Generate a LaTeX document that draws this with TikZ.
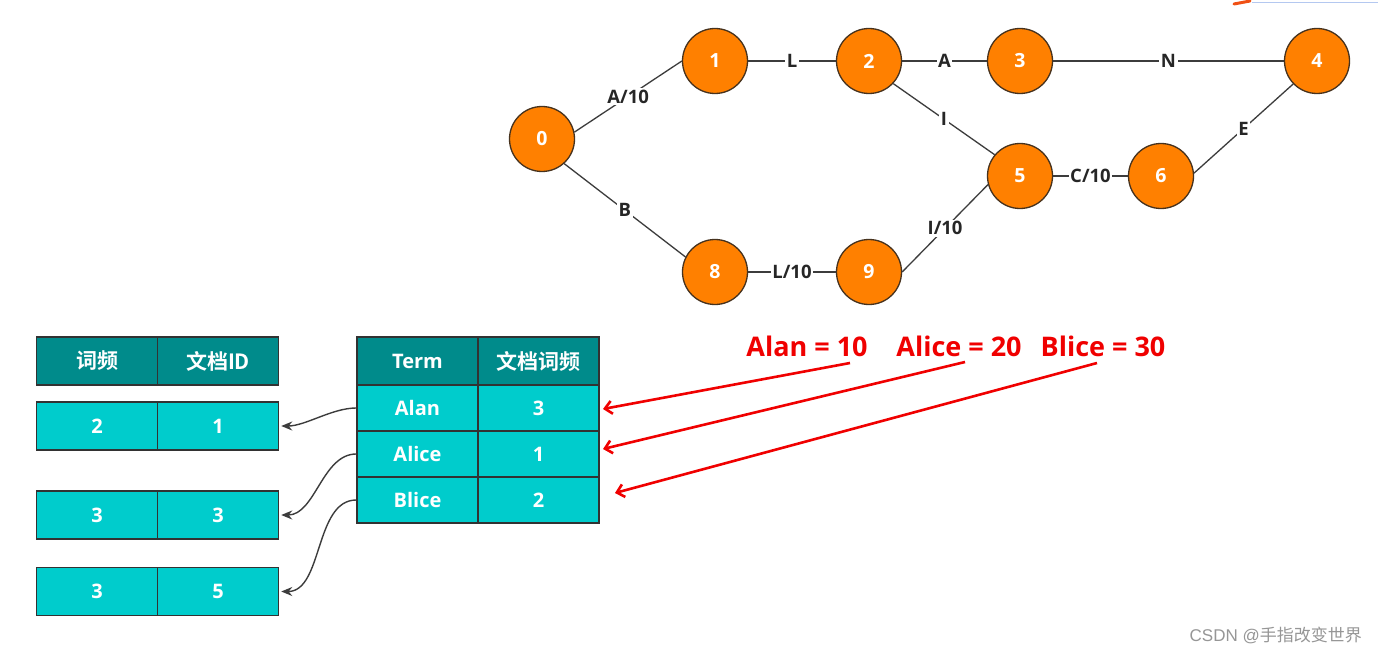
\documentclass[tikz,border=0pt]{standalone}
\usepackage{fontspec}
\setmainfont{Open Sans}
\newfontfamily\cjk{Noto Sans CJK SC}[BoldFont={Noto Sans CJK SC Bold}]
\newfontfamily\wmfont{Liberation Sans}
\usetikzlibrary{arrows.meta}
\definecolor{vtxorange}{RGB}{255,128,0}
\definecolor{vtxborder}{RGB}{70,50,30}
\definecolor{edgegray}{RGB}{60,60,60}
\definecolor{hdrteal}{RGB}{0,139,139}
\definecolor{rowcyan}{RGB}{0,204,204}
\definecolor{cellborder}{RGB}{50,50,50}
\definecolor{redtxt}{RGB}{240,0,0}
\definecolor{wmgray}{RGB}{150,150,150}
\definecolor{artblue}{RGB}{180,200,240}
\definecolor{artorange}{RGB}{240,80,20}
\begin{document}
\begin{tikzpicture}[x=1pt,y=-1pt,
  vtx/.style={circle, fill=vtxorange, draw=vtxborder, line width=1.3pt, minimum size=65pt, inner sep=0pt, text=white, font=\bfseries\fontsize{19.5}{19.5}\selectfont},
  edg/.style={draw=edgegray, line width=1.3pt},
  elbl/.style={fill=white, inner sep=1.5pt, text=black!85, font=\bfseries\fontsize{18.5}{18.5}\selectfont},
  cell/.style={draw=cellborder, line width=1.5pt, text=white, inner sep=0pt, font=\bfseries\fontsize{20}{20}\selectfont},
  hdr/.style={cell, fill=hdrteal, minimum width=121pt, minimum height=48pt},
  lrow/.style={cell, fill=rowcyan, minimum width=121pt, minimum height=48pt},
  rrow/.style={cell, fill=rowcyan, minimum width=121pt, minimum height=46pt},
  zh/.style={font=\cjk\bfseries\fontsize{21}{21}\selectfont},
  link/.style={draw=edgegray, line width=1.4pt, -{Stealth[length=11pt,width=9pt]}},
  redarr/.style={draw=redtxt, line width=2.6pt, -{Straight Barb[length=7pt,width=13pt,line width=2.6pt]}},
  redlbl/.style={text=redtxt, inner sep=0pt, font=\bfseries\fontsize{27}{27}\selectfont},
  wm/.style={text=wmgray, inner sep=0pt, anchor=east, font=\fontsize{17}{17}\selectfont}
]
\useasboundingbox (0,0) rectangle (1378,655);
\fill[white] (0,0) rectangle (1378,655);

% screenshot fragment at the top right
\draw[artblue, line width=1pt] (1252,3) -- (1378,3);
\draw[artorange, line width=3pt, line cap=round] (1234,4) -- (1250,1);

% graph vertices
\node[vtx] (n0) at (542,139) {0};
\node[vtx] (n1) at (715,61) {1};
\node[vtx] (n2) at (869,61) {2};
\node[vtx] (n3) at (1020,61) {3};
\node[vtx] (n4) at (1317,61) {4};
\node[vtx] (n5) at (1020,176) {5};
\node[vtx] (n6) at (1161,176) {6};
\node[vtx] (n8) at (715,272) {8};
\node[vtx] (n9) at (869,272) {9};

% graph edges
\path[edg] (n0.12) -- node[elbl] {A/10} (n1.west);
\path[edg] (n1.east) -- node[elbl] {L} (n2.west);
\path[edg] (n2.east) -- node[elbl] {A} (n3.west);
\path[edg] (n3.east) -- node[elbl] {N} (n4.west);
\path[edg] (n2.-43) -- node[elbl] {I} (n5.140);
\path[edg] (n5.east) -- node[elbl] {C/10} (n6.west);
\path[edg] (n6.5) -- node[elbl] {E} (n4.224);
\path[edg] (n0.-48) -- node[elbl] {B} (n8.153);
\path[edg] (n8.east) -- node[elbl] {L/10} (n9.west);
\path[edg] (n9.east) -- node[elbl] {I/10} (n5.195);

% left table
\node[hdr, zh] (lh1) at (97,361) {词频};
\node[hdr, zh] (lh2) at (218,361) {文档ID};
\node[lrow] (la1) at (97,426) {2};
\node[lrow] (la2) at (218,426) {1};
\node[lrow] (lb1) at (97,515) {3};
\node[lrow] (lb2) at (218,515) {3};
\node[lrow] (lc1) at (97,591.5) {3};
\node[lrow] (lc2) at (218,591.5) {5};

% right table
\node[hdr] (rh1) at (417.5,361) {Term};
\node[hdr, zh] (rh2) at (538.5,361) {文档词频};
\node[rrow] (alan) at (417.5,408) {Alan};
\node[rrow] (alanv) at (538.5,408) {3};
\node[rrow] (alice) at (417.5,454) {Alice};
\node[rrow] (alicev) at (538.5,454) {1};
\node[rrow] (blice) at (417.5,500) {Blice};
\node[rrow] (blicev) at (538.5,500) {2};

% links from terms to postings
\draw[link] (alan.west) to[out=180, in=0, looseness=0.8] ([xshift=2pt]la2.east);
\draw[link] (alice.west) to[out=180, in=0, looseness=0.9] ([xshift=2pt]lb2.east);
\draw[link] (blice.west) to[out=180, in=0, looseness=0.9] ([xshift=2pt]lc2.east);

% red labels and arrows
\node[redlbl] (ta) at (807,346) {Alan = 10};
\node[redlbl] (tb) at (959,346) {Alice = 20};
\node[redlbl] (tc) at (1103,346) {Blice = 30};
\coordinate (sa) at (850,363);
\coordinate (sb) at (965,362);
\coordinate (sc) at (1097,363);
\coordinate (ea) at (603,409);
\coordinate (eb) at (603,449);
\coordinate (ec) at (615,493);
\draw[redarr] (sa) -- (ea);
\draw[redarr] (sb) -- (eb);
\draw[redarr] (sc) -- (ec);

% watermark
\node[wm] (wmk) at (1362,635) {\wmfont CSDN @\cjk 手指改变世界};
\end{tikzpicture}
\end{document}
